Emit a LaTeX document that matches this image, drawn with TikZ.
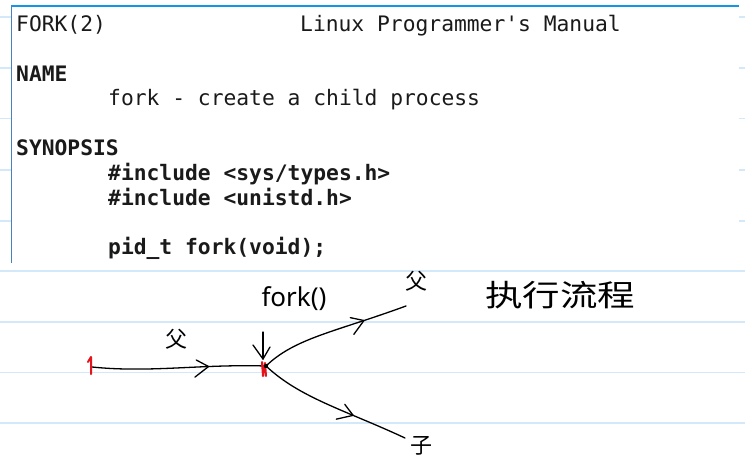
\documentclass[tikz,border=0pt]{standalone}
\usepackage{fontspec}
\setmonofont{DejaVu Sans Mono}
\newfontfamily\cjk{Noto Sans CJK SC}
\newfontfamily\handfont{Noto Sans}
\usetikzlibrary{decorations.markings}
\usetikzlibrary{positioning}
\definecolor{ruleblue}{HTML}{D3E8F8}
\definecolor{frameblue}{HTML}{1296E6}
\definecolor{edgeblue}{HTML}{4682BE}
\definecolor{inkred}{HTML}{E5131B}
\definecolor{termtext}{HTML}{1A1A1A}
\tikzset{
  % hand drawn stroke
  ink/.style = {
    draw = black,
    line width = 1.3pt,
    line cap = round,
    line join = round
  },
  red ink/.style = {
    ink,
    draw = inkred,
    line width = 2pt
  },
  % open chevron put on a stroke, like the pen does it
  mid chevron/.style = {
    postaction = {
      decorate,
      decoration = {
        markings,
        mark = at position #1 with {
          \draw[ink] (-12,-7) -- (0,0) -- (-14,10);
        }
      }
    }
  }
}
\tikzset {
  % one line of the terminal
  manline/.style = {
    anchor = base west,
    inner sep = 0,
    text = termtext,
    font = \ttfamily\fontsize{21.3}{25}\selectfont
  },
  % bold line of the terminal
  manhead/.style = {
    manline,
    font = \ttfamily\bfseries\fontsize{21.3}{25}\selectfont
  },
  % handwritten chinese
  hanzi/.style = {
    inner sep = 0,
    font = \cjk\fontsize{22}{22}\selectfont
  },
  % handwritten latin
  scrawl/.style = {
    inner sep = 0,
    font = \handfont\fontsize{26}{26}\selectfont
  }
}

\begin{document}
\begin{tikzpicture}[x = 1pt, y = -1pt]
    \useasboundingbox (0,0) rectangle (745,463);
    % ruled paper
    \foreach \y in {17,68,118.5,170,221,271,322,372.5,423}
      \draw[ruleblue, line width = 1.2pt] (0,\y) -- (745,\y);

    % man page screenshot
    \fill[white] (11,6) rectangle (739,263);
    \draw[frameblue, line width = 2pt] (11,6) -- (739,6);
    \draw[edgeblue, line width = 1pt] (11,6) -- (11,263);

    \node[manline] (title) at (16,31) {FORK(2)};
    \node[manline] (header) at (300,31) {Linux Programmer's Manual};
    \node[manhead] (name) at (16,81) {NAME};
    \node[manline] (purpose) at (108,105) {fork - create a child process};
    \node[manhead] (synopsis) at (16,155) {SYNOPSIS};
    \node[manhead] (inc-types) at (108,180) {\#include <sys/types.h>};
    \node[manhead] (inc-unistd) at (108,205) {\#include <unistd.h>};
    \node[manhead] (proto) at (108,254) {pid\_t fork(void);};

    % execution flow
    \coordinate (start) at (92,367);
    \coordinate (fork) at (266,366);
    \coordinate (call) at (263,332);
    \coordinate (call-tip) at (263,359);
    \coordinate (parent-end) at (406,306);
    \coordinate (child-end) at (405,438);

    \node[hanzi] (parent-lbl) at (176,339) {父};
    \node[scrawl] (fork-lbl) at (294,299) {fork()};
    \node[hanzi] (parent-top) at (416,281) {父};
    \node[hanzi] (child-lbl) at (421,446) {子};
    \node[hanzi, xscale = 1.25, font = \cjk\fontsize{30}{30}\selectfont]
      (flow) at (560,295) {执行流程};

    \draw[ink, mid chevron = 0.67] (start) .. controls (150,373) and (200,364) .. (fork);
    \draw[ink, mid chevron = 1] (call) -- (call-tip);
    \draw[ink, mid chevron = 0.71] (fork) .. controls (295,338) and (335,332) .. (parent-end);
    \draw[ink, mid chevron = 0.64] (fork) .. controls (300,398) and (345,410) .. (child-end);

    \draw[red ink] (91,374) -- (91,357) -- (88,362);
    \draw[red ink] (262,362) -- (263,376) -- (265,363) -- (266,376);
    \fill (fork) circle (2.2);
  \end{tikzpicture}
\end{document}
